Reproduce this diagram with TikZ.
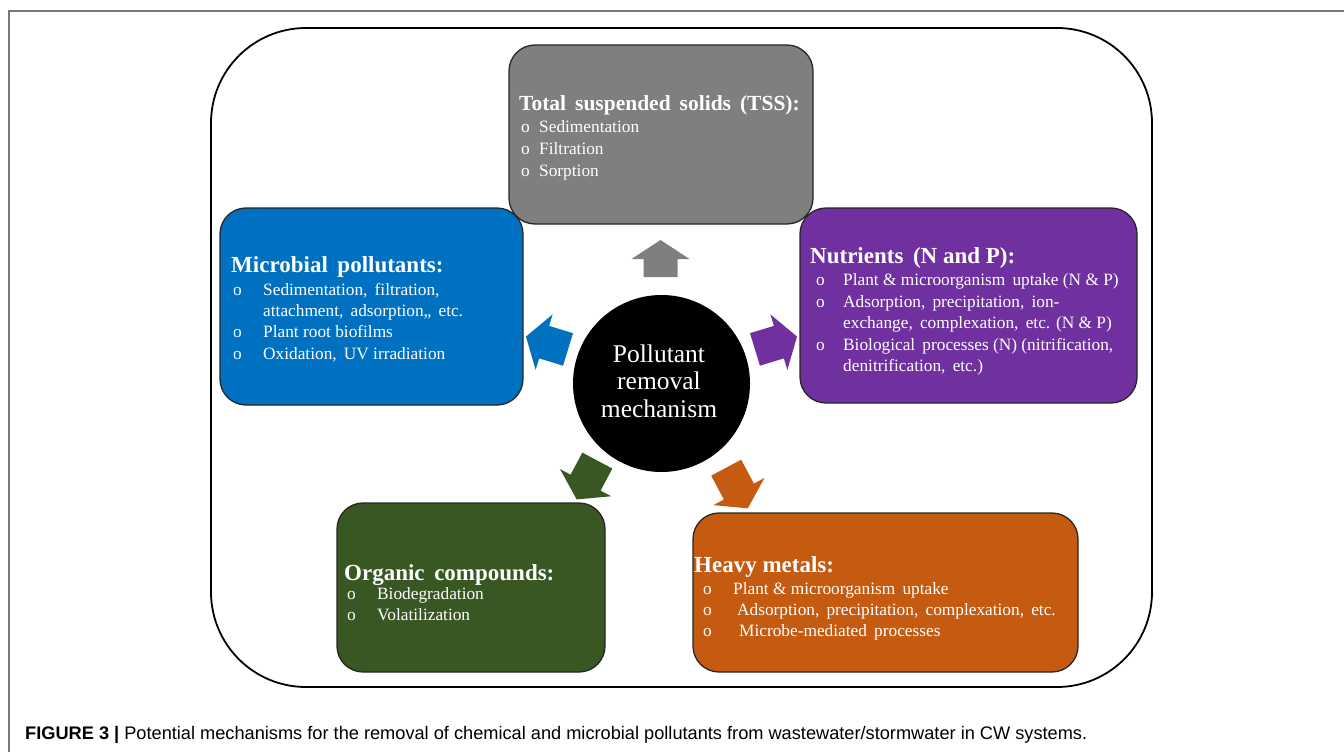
\documentclass[tikz,border=0pt]{standalone}
\usepackage{fontspec}
\setmainfont{Liberation Serif}
\newfontfamily\capfont{Liberation Sans}
\usetikzlibrary{positioning}
\definecolor{tssgray}{RGB}{127,127,127}
\definecolor{mblue}{RGB}{0,112,192}
\definecolor{npurple}{RGB}{112,48,160}
\definecolor{ogreen}{RGB}{56,87,35}
\definecolor{hmorange}{RGB}{197,90,17}
\definecolor{framegray}{RGB}{120,120,120}
\tikzset{
  outer/.style={draw, line width=1.8pt, rounded corners=95pt, inner sep=0},
  box/.style={draw=black!85, line width=1.3pt, rounded corners=26pt, inner sep=0},
  hub/.style={circle, fill=black, minimum size=177pt, inner sep=0},
  hdr/.style={anchor=base west, inner sep=0, text=white, font=\bfseries\fontsize{23}{26}\selectfont},
  itm/.style={anchor=base west, inner sep=0, text=white, font=\fontsize{17.3}{20}\selectfont},
}
% block arrow: centre, angle, colour, length
\newcommand\blockarr[4]{%
  \begin{scope}[shift={#1}, rotate=#2]
    \fill[#3] (-#4/2,17) -- (#4/2-19,17) -- (#4/2-19,29) -- (#4/2,0)
      -- (#4/2-19,-29) -- (#4/2-19,-17) -- (-#4/2,-17) -- cycle;
  \end{scope}}

\begin{document}
\begin{tikzpicture}[x=1pt,y=-1pt]
\useasboundingbox (0,0) rectangle (1344,752);
\draw[framegray, line width=1.5pt] (9,752) -- (9,11) -- (1344,11);
\node[outer, minimum width=941pt, minimum height=659pt] (panel) at (681.5,357.5) {};

% centre
\node[hub] (hub) at (661.5,383.5) {};
\node[align=center, text=white, inner sep=0, font=\fontsize{25.5}{27.5}\selectfont] (hubtxt) at (659,381) {Pollutant\\removal\\mechanism};

% arrows
\blockarr{(660.5,258.5)}{90}{tssgray}{37}
\blockarr{(547,343)}{163}{mblue}{44}
\blockarr{(776,343)}{17}{npurple}{44}
\blockarr{(587,480)}{242}{ogreen}{44}
\blockarr{(737,488)}{-62}{hmorange}{46}

% TSS
\node[box, fill=tssgray, minimum width=304pt, minimum height=179pt] (tss) at (661,134.5) {};
\node[hdr, font=\bfseries\fontsize{21.5}{24}\selectfont] (tsshdr) at (519,110.5) {Total\, suspended\, solids\, (TSS):};
\foreach \y/\t [count=\i] in {132.5/Sedimentation,154.5/Filtration,176.5/Sorption}{
  \node[itm] (tssb\i) at (521,\y) {o};
  \node[itm] (tss\i) at (539,\y) {\t};
}

% microbial pollutants
\node[box, fill=mblue, minimum width=303pt, minimum height=197pt] (mic) at (371.5,306.5) {};
\node[hdr] (michdr) at (231,272.5) {Microbial\, pollutants:};
\foreach \y/\t [count=\i] in {295/{Sedimentation,\, filtration,},337.5/Plant root biofilms,359.5/{Oxidation,\, UV irradiation}}{
  \node[itm] (micb\i) at (233,\y) {o};
  \node[itm] (mic\i) at (263,\y) {\t};
}
\node[itm] (micc) at (263,316.5) {attachment,\, adsorption,,\, etc.};

% nutrients
\node[box, fill=npurple, minimum width=337pt, minimum height=195pt] (nut) at (968.5,305.5) {};
\node[hdr] (nuthdr) at (810,263.5) {Nutrients\, (N and P):};
\foreach \y/\t [count=\i] in {285.5/Plant \& microorganism\, uptake (N \& P),307/{Adsorption,\, precipitation,\, ion-},350.5/{Biological\, processes (N) (nitrification,}}{
  \node[itm] (nutb\i) at (816,\y) {o};
  \node[itm] (nut\i) at (843,\y) {\t};
}
\node[itm] (nutc1) at (843,328.5) {exchange,\, complexation,\, etc. (N \& P)};
\node[itm] (nutc2) at (843,371.5) {denitrification,\, etc.)};

% organic compounds
\node[box, fill=ogreen, minimum width=268pt, minimum height=169pt] (org) at (471,587.5) {};
\node[hdr] (orghdr) at (344,580) {Organic\, compounds:};
\foreach \y/\t [count=\i] in {599/Biodegradation,620/Volatilization}{
  \node[itm] (orgb\i) at (347,\y) {o};
  \node[itm] (org\i) at (377,\y) {\t};
}

% heavy metals
\node[box, fill=hmorange, minimum width=385pt, minimum height=159pt] (hm) at (885.5,592.5) {};
\node[hdr] (hmhdr) at (694,572) {Heavy metals:};
\foreach \y/\x/\t [count=\i] in {594/733/Plant \& microorganism\, uptake,615.5/737/{Adsorption,\, precipitation,\, complexation,\, etc.},636/739/Microbe-mediated\, processes}{
  \node[itm] (hmb\i) at (703,\y) {o};
  \node[itm] (hm\i) at (\x,\y) {\t};
}

% caption
\node[anchor=base west, inner sep=0, font=\capfont\fontsize{18.2}{20}\selectfont] (cap) at (25,739) {\textbf{FIGURE 3 |} Potential mechanisms for the removal of chemical and microbial pollutants from wastewater/stormwater in CW systems.};
\end{tikzpicture}
\end{document}
